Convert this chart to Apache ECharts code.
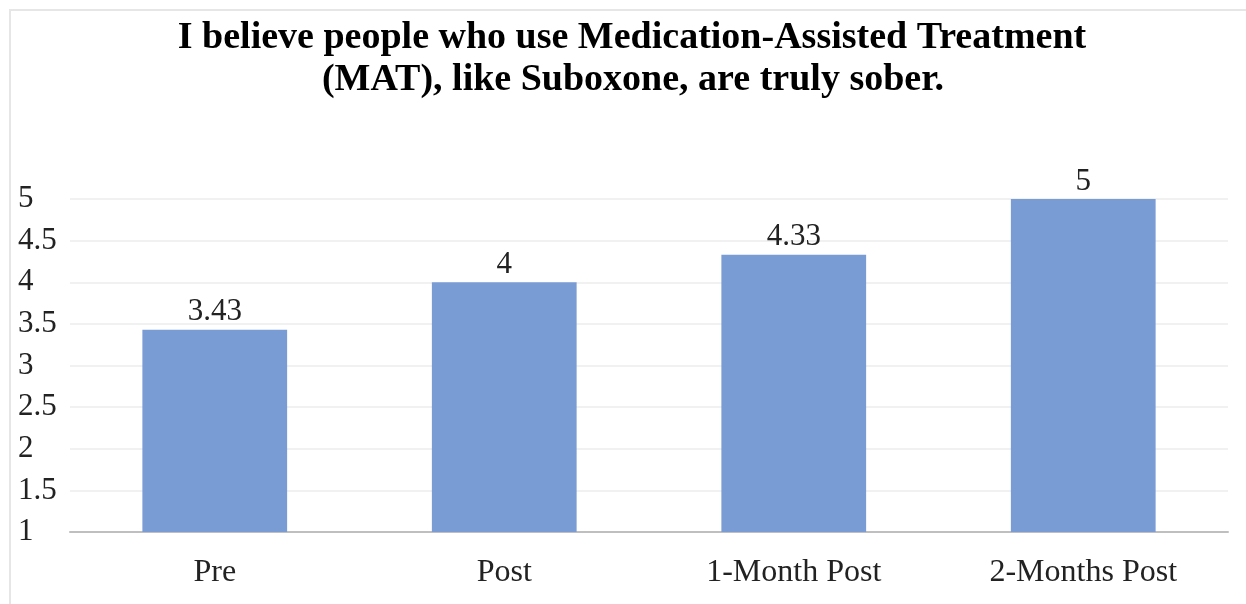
<!DOCTYPE html>
<html>
<head>
<meta charset="utf-8">
<script src="https://cdn.jsdelivr.net/npm/echarts@6/dist/echarts.min.js"></script>
<style>
  html, body { margin: 0; padding: 0; background: #fff; }
  #chart { width: 1246px; height: 604px; }
</style>
</head>
<body>
<div id="chart"></div>
<script>
// Survey item: mean agreement score at each time point
const titleLines = [
  'I believe people who use Medication-Assisted Treatment',
  '(MAT), like Suboxone, are truly sober.'
];
const categories = ['Pre', 'Post', '1-Month Post', '2-Months Post'];
const scores = [3.43, 4, 4.33, 5];
const yMin = 1;
const yMax = 5;
const yStep = 0.5;

const serif = '"Liberation Serif", "Times New Roman", "DejaVu Serif", serif';

const chart = echarts.init(document.getElementById('chart'), null, { renderer: 'canvas' });

chart.setOption({
  backgroundColor: '#ffffff',
  animation: false,
  graphic: [
    {
      // light frame around the chart area
      type: 'rect',
      shape: { x: 10, y: 10, width: 1400, height: 800 },
      style: { fill: 'none', stroke: '#e6e6e6', lineWidth: 2 },
      silent: true
    },
    {
      type: 'text',
      x: 632, y: 38,
      style: {
        text: titleLines[0],
        font: 'bold 38px ' + serif,
        fill: '#000',
        textAlign: 'center',
        textVerticalAlign: 'middle'
      }
    },
    {
      type: 'text',
      x: 633, y: 80,
      style: {
        text: titleLines[1],
        font: 'bold 38px ' + serif,
        fill: '#000',
        textAlign: 'center',
        textVerticalAlign: 'middle'
      }
    }
  ],
  grid: { left: 70, right: 18, top: 199, bottom: 72, containLabel: false },
  xAxis: {
    type: 'category',
    data: categories,
    axisLine: { show: true, lineStyle: { color: '#bfbfbf', width: 2 } },
    axisTick: { show: false },
    axisLabel: {
      color: '#222',
      fontFamily: serif,
      fontSize: 32,
      margin: 25
    }
  },
  yAxis: {
    type: 'value',
    min: yMin,
    max: yMax,
    interval: yStep,
    axisLine: { show: false },
    axisTick: { show: false },
    splitLine: { show: true, lineStyle: { color: '#ececec', width: 1.5 } },
    axisLabel: {
      color: '#222',
      fontFamily: serif,
      fontSize: 31,
      align: 'left',
      margin: 52,
      padding: [6, 0, 0, 0]
    }
  },
  series: [{
    type: 'bar',
    data: scores,
    barWidth: '50%',
    itemStyle: { color: '#7a9cd4' },
    label: {
      show: true,
      position: 'top',
      distance: 2,
      color: '#222',
      fontFamily: serif,
      fontSize: 31
    }
  }]
});
</script>
</body>
</html>
